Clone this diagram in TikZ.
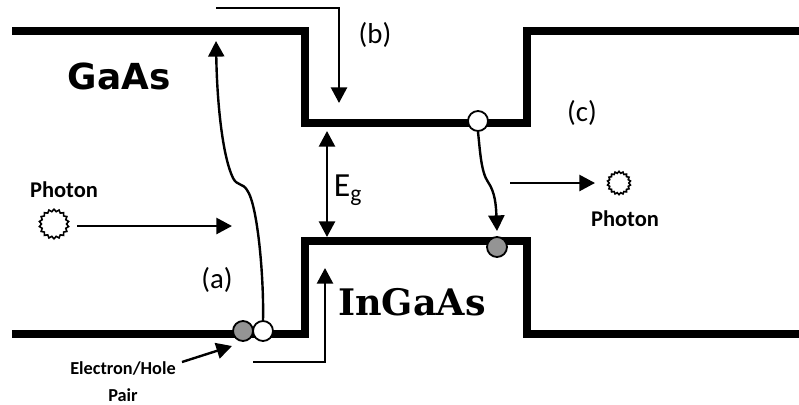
\documentclass[tikz,border=0pt]{standalone}
\usepackage{fontspec}
\setmainfont{Carlito}
\newfontfamily\gaasfont{DejaVu Sans}
\newfontfamily\ingaasfont{DejaVu Serif}
\usetikzlibrary{arrows.meta, positioning, shapes.geometric}

\begin{document}
\begin{tikzpicture}[
  x=0.025cm, y=-0.025cm,
  band/.style={line width=1.9mm, line join=miter},
  edge/.style={-{Triangle[length=3.9mm, width=4mm]}, line width=0.6mm},
  carrier/.style={circle, draw, line width=0.45mm, inner sep=0pt, minimum size=5mm},
  electron/.style={carrier, fill=white},
  hole/.style={carrier, fill=black!42},
  burst/.style={star, star points=18, star point ratio=1.18, draw, line width=0.4mm, inner sep=0pt},
  tag/.style={font=\fontsize{20.5}{24}\selectfont},
  caption/.style={font=\fontsize{16}{19}\selectfont\bfseries},
  small/.style={font=\fontsize{13}{15}\selectfont\bfseries}
]
\useasboundingbox (0,0) rectangle (799,404);

% conduction band
\coordinate (c0) at (12,31);
\coordinate (c1) at (305,31);
\coordinate (c2) at (305,123);
\coordinate (c3) at (527,123);
\coordinate (c4) at (527,31);
\coordinate (c5) at (799,31);
\draw[band] (c0) -- (c1) -- (c2) -- (c3) -- (c4) -- (c5);

% valence band
\coordinate (v0) at (12,334);
\coordinate (v1) at (305,334);
\coordinate (v2) at (305,241);
\coordinate (v3) at (527,241);
\coordinate (v4) at (527,334);
\coordinate (v5) at (799,334);
\draw[band] (v0) -- (v1) -- (v2) -- (v3) -- (v4) -- (v5);

\node[hole] (h1) at (243,331) {};
\node[electron] (e1) at (263,331) {};
\node[electron] (e2) at (478,121) {};
\node[hole] (h2) at (497,247) {};

\node[burst, minimum size=7.4mm] (p1) at (54,224) {};
\node[burst, minimum size=5.8mm] (p2) at (619,183) {};

\node[font=\gaasfont\fontsize{25.5}{28}\selectfont\bfseries] (gaas) at (119,76) {GaAs};
\node[font=\ingaasfont\fontsize{26}{29}\selectfont\bfseries] (ingaas) at (412,302) {InGaAs};
\node[caption] (ph1) at (64,190) {Photon};
\node[caption] (ph2) at (625,219) {Photon};
\node[small] (pair1) at (123,368) {Electron/Hole};
\node[small] (pair2) at (123,395) {Pair};
\node[tag] (a) at (217,280) {(a)};
\node[tag] (b) at (375,35) {(b)};
\node[tag] (c) at (582,113) {(c)};
\node[font=\fontsize{24}{28}\selectfont] (gap) at (348,190) {E\textsubscript{g}};

\coordinate (eg1) at (327,131);
\coordinate (eg2) at (327,237);
\draw[edge, {Triangle[length=3.9mm, width=4mm]}-{Triangle[length=3.9mm, width=4mm]}] (eg1) -- (eg2);

% (b) and the step under InGaAs
\coordinate (b0) at (216,8);
\coordinate (b1) at (339,8);
\coordinate (b2) at (339,103);
\draw[edge] (b0) -- (b1) -- (b2);
\coordinate (d0) at (253,362);
\coordinate (d1) at (325,362);
\coordinate (d2) at (325,268);
\draw[edge] (d0) -- (d1) -- (d2);

% photon arrows
\coordinate (pa0) at (77,226);
\coordinate (pa1) at (232,226);
\draw[edge] (pa0) -- (pa1);
\coordinate (pb0) at (510,183);
\coordinate (pb1) at (595,183);
\draw[edge] (pb0) -- (pb1);
\coordinate (pc0) at (182,362);
\coordinate (pc1) at (232,346);
\draw[edge] (pc0) -- (pc1);

% carrier paths
\coordinate (top) at (216,41);
\draw[edge] (e1.north) .. controls (264,280) and (258,205) .. (247,190)
  .. controls (243,183) and (237,186) .. (233,178)
  .. controls (222,155) and (217,100) .. (top);
\coordinate (low) at (497,231);
\draw[edge] (e2.south) .. controls (480,150) and (481,172) .. (488,182)
  .. controls (495,192) and (496,205) .. (low);
\end{tikzpicture}
\end{document}
